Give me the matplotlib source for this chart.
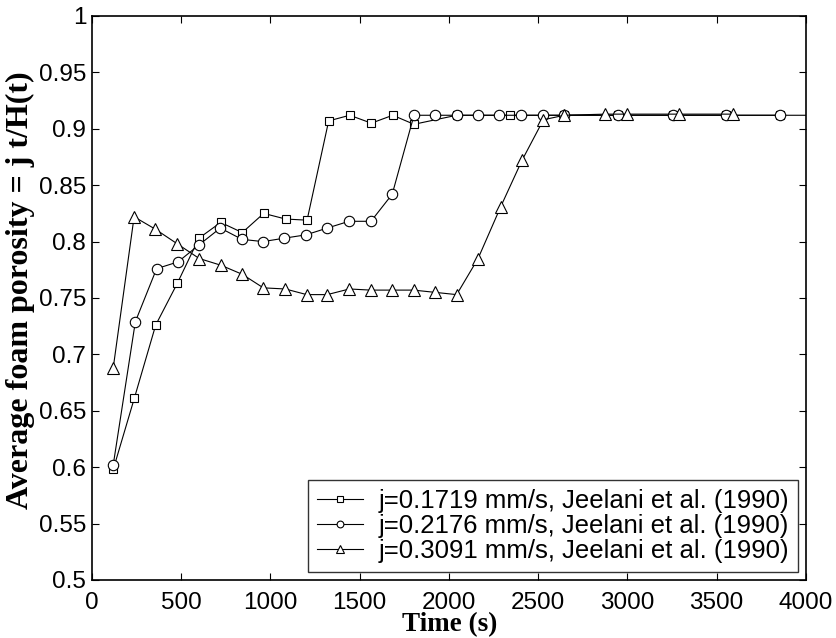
import matplotlib
matplotlib.use("Agg")
import matplotlib.pyplot as plt

# Data
t_sq = [120, 238, 358, 479, 600, 722, 843, 963, 1086, 1206, 1327, 1445, 1566, 1686, 1805,
        2044, 2343, 2647, 2950, 3256, 3553, 3855]
p_sq = [0.598, 0.661, 0.726, 0.763, 0.803, 0.817, 0.808, 0.825, 0.820, 0.819, 0.907, 0.912,
        0.905, 0.912, 0.904, 0.912, 0.912, 0.912, 0.912, 0.912, 0.912, 0.912]

t_ci = [120, 244, 363, 483, 600, 720, 841, 959, 1077, 1200, 1319, 1441, 1564, 1683, 1805,
        1923, 2044, 2162, 2283, 2404, 2526, 2647, 2950, 3256, 3553, 3855, 4160]
p_ci = [0.602, 0.729, 0.776, 0.782, 0.797, 0.812, 0.802, 0.800, 0.803, 0.806, 0.812, 0.818,
        0.818, 0.842, 0.912, 0.912, 0.912, 0.912, 0.912, 0.912, 0.912, 0.912, 0.912, 0.912,
        0.912, 0.912, 0.912]

t_tr = [120, 237, 356, 479, 602, 724, 843, 961, 1084, 1204, 1319, 1443, 1562, 1683, 1803,
        1923, 2044, 2164, 2291, 2410, 2530, 2647, 2877, 2997, 3291, 3594]
p_tr = [0.688, 0.822, 0.811, 0.798, 0.785, 0.779, 0.771, 0.759, 0.758, 0.753, 0.753, 0.758,
        0.757, 0.757, 0.757, 0.755, 0.753, 0.785, 0.831, 0.872, 0.908, 0.912, 0.913, 0.913,
        0.913, 0.913]

labels = ["j=0.1719 mm/s, Jeelani et al. (1990)",
          "j=0.2176 mm/s, Jeelani et al. (1990)",
          "j=0.3091 mm/s, Jeelani et al. (1990)"]

xticks = [0, 500, 1000, 1500, 2000, 2500, 3000, 3500, 4000]
yticks = [0.5, 0.55, 0.6, 0.65, 0.7, 0.75, 0.8, 0.85, 0.9, 0.95, 1.0]
ytick_labels = ["0.5", "0.55", "0.6", "0.65", "0.7", "0.75", "0.8", "0.85", "0.9", "0.95", "1"]

plt.rcParams['font.family'] = ['Liberation Sans', 'DejaVu Sans']

W, H = 836, 638
fig = plt.figure(figsize=(W / 100, H / 100), dpi=100)
ax = fig.add_axes([91.8 / W, 1 - 580 / H, (805.8 - 91.8) / W, (580 - 16) / H])

kw = dict(color='black', lw=0.8, mfc='white', mec='black', mew=0.8)
ax.plot(t_sq, p_sq, marker='s', ms=6, label=labels[0], **kw)
ax.plot(t_ci, p_ci, marker='o', ms=7.5, label=labels[1], **kw)
ax.plot(t_tr, p_tr, marker='^', ms=8, label=labels[2], **kw)

ax.set_xlim(0, 4000)
ax.set_ylim(0.5, 1.0)
ax.set_xticks(xticks)
ax.set_xticklabels([str(v) for v in xticks])
ax.set_yticks(yticks)
ax.set_yticklabels(ytick_labels)
ax.tick_params(direction='in', length=5, width=0.8, top=True, right=True,
               labelsize=17.5)
ax.tick_params(axis='x', pad=8.5)
ax.tick_params(axis='y', pad=4)
for s in ax.spines.values():
    s.set_linewidth(1.2)

fig.text(450 / W, 1 - 631 / H, "Time (s)", family=['Liberation Serif'],
         fontweight='bold', fontsize=19.5, ha='center', va='baseline')
fig.text(20 / W, 1 - 290 / H, "Average foam porosity = j t/H(t)", family=['Liberation Serif'],
         fontweight='bold', fontsize=23, ha='center', va='center', rotation=90)

leg = ax.legend(loc='lower right', fontsize=18.5, frameon=True, fancybox=False,
                edgecolor='black', borderaxespad=0.3, handlelength=1.8,
                labelspacing=0.05, borderpad=0.35, handletextpad=0.6,
                markerscale=0.65)
leg.get_frame().set_linewidth(1.0)

fig.savefig("out.png", dpi=100)
